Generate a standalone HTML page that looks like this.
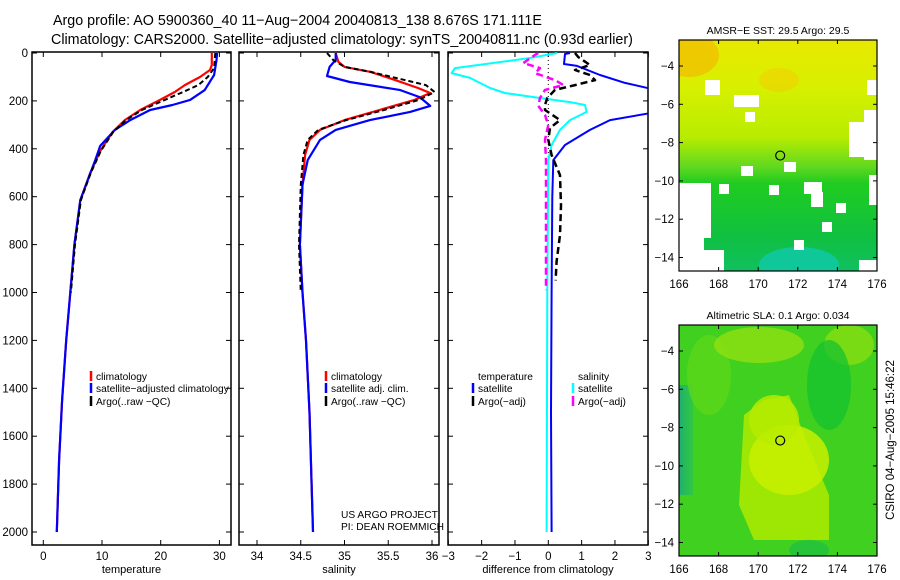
<!DOCTYPE html>
<html><head><meta charset="utf-8"><style>
body{margin:0;background:#fff;}
svg{display:block;font-family:"Liberation Sans",sans-serif;}
</style></head><body>
<svg id="fig" width="900" height="580" viewBox="0 0 900 580" xmlns="http://www.w3.org/2000/svg">
<rect width="900" height="580" fill="#fff"/>
<text x="53" y="25" font-size="14.3">Argo profile: AO 5900360_40 11−Aug−2004 20040813_138 8.676S 171.111E</text>
<text x="51" y="44" font-size="14.3">Climatology: CARS2000. Satellite−adjusted climatology: synTS_20040811.nc (0.93d earlier)</text>
<g id="maps"></g>
<g id="plots"></g>
<text transform="translate(894,440) rotate(-90)" text-anchor="middle" font-size="11.5">CSIRO 04−Aug−2005 15:46:22</text>
</svg>
<script>
// ---------- data ----------
const depthTicks = [0,200,400,600,800,1000,1200,1400,1600,1800,2000];
const tempTicks = [0,10,20,30];
const salTicks = [34,34.5,35,35.5,36];
const diffTicks = [-3,-2,-1,0,1,2,3];

const tempClimDepth = [0,50,71,100,134,163,196,238,280,330,409,500,614,800,1000,1200,1450,1700,2000];
const tempClimVal   = [28.7,28.7,28.4,26.7,24.1,22.4,19.9,16.5,13.9,11.8,9.7,8.0,6.3,5.3,4.6,3.9,3.2,2.7,2.3];
const tempSatDepth  = [0,30,92,155,196,217,238,280,321,388,450,614,800,1000,1200,1450,1700,2000];
const tempSatVal    = [29.6,29.5,29.1,27.5,25.0,22.0,18.2,14.8,12.2,9.7,8.8,6.3,5.3,4.6,3.9,3.2,2.7,2.3];
const tempArgoDepth = [0,63,100,134,163,196,238,280,330,409,500,614,800,1000];
const tempArgoVal   = [29.3,29.1,28.0,26.4,23.8,20.7,16.8,14.1,11.9,9.8,8.1,6.4,5.4,4.7];

const salClimDepth = [0,37,58,79,113,146,167,196,238,280,321,363,426,550,800,1000,1200,1500,2000];
const salClimVal   = [34.9,34.93,35.0,35.3,35.58,35.84,35.98,35.8,35.4,35.0,34.72,34.6,34.55,34.52,34.49,34.52,34.56,34.6,34.64];
const salSatDepth  = [0,29,58,96,121,154,184,221,246,280,321,363,447,550,800,1000,1200,1500,2000];
const salSatVal    = [34.9,34.9,34.83,34.8,35.06,35.63,35.86,35.98,35.75,35.29,34.9,34.72,34.58,34.52,34.49,34.52,34.56,34.6,34.64];
const salArgoDepth = [0,29,58,79,134,163,196,238,280,321,363,426,550,800,1000];
const salArgoVal   = [34.8,34.87,35.0,35.3,35.93,36.03,35.85,35.45,35.02,34.7,34.58,34.53,34.5,34.48,34.5];

const dTempSatDepth = [0,4,46,54,92,125,150,250,280,321,384,447,600,1000,1500,2000];
const dTempSatVal   = [0.65,0.5,0.47,0.86,1.55,2.3,3.1,3.1,1.85,1.25,0.5,0.15,0.12,0.1,0.08,0.1];
const dSalSatDepth  = [0,21,63,84,104,146,167,188,205,217,246,280,321,384,447,1000,2000];
const dSalSatVal    = [0.27,-0.55,-2.8,-2.9,-2.35,-1.75,-1.3,-0.25,0.65,1.1,1.15,0.65,0.35,0.1,0.0,-0.03,-0.05];
const dTempArgoDepth= [0,17,50,71,92,113,134,154,188,217,238,280,313,363,426,510,636,760,870,950];
const dTempArgoVal  = [0.8,0.9,1.25,0.8,1.25,1.4,0.8,0.2,-0.03,-0.1,-0.1,0.35,0.05,0.0,0.1,0.35,0.38,0.35,0.25,0.22];
const dSalArgoDepth = [0,8,42,63,84,113,134,154,188,221,259,301,363,447,600,800,990];
const dSalArgoVal   = [-0.3,-0.4,-0.75,-0.25,-0.4,0.2,0.45,-0.1,-0.25,-0.3,-0.1,0,-0.1,-0.07,-0.07,-0.07,-0.07];

const argoLon = 171.111, argoLat = -8.676;
const mapLonTicks = [166,168,170,172,174,176];
const mapLatTicks = [-4,-6,-8,-10,-12,-14];

// ---------- helpers ----------
const NS = "http://www.w3.org/2000/svg";
const plots = document.getElementById('plots');
const mapsG = document.getElementById('maps');
function mk(tag, attrs, parent){
  const e = document.createElementNS(NS, tag);
  for (const k in attrs) e.setAttribute(k, attrs[k]);
  (parent||plots).appendChild(e);
  return e;
}
const Y = d => 53.0 + d * 0.2395;

const panels = [
  {left:32, right:231, x:v => 43.3 + v*5.87, ticks:tempTicks, label:'temperature', name:'temperature', lbl:v=>String(v)},
  {left:239, right:439, x:v => 257 + (v-34)*87.5, ticks:salTicks, label:'salinity', name:'salinity', lbl:v=>String(v)},
  {left:448, right:648, x:v => 548.3 + v*33.33, ticks:diffTicks, label:'difference from climatology', name:'difference', lbl:v=>v<0?'−'+Math.abs(v):String(v)}
];
const TOP = 52, BOT = 545;

panels.forEach((p, i) => {
  const g = mk('g', {});
  
  
  const fr = mk('rect', {x:p.left, y:TOP, width:p.right-p.left, height:BOT-TOP, fill:'none', stroke:'#000', 'stroke-width':1.5}, g);
  
  
  p.ticks.forEach(t => {
    const x = p.x(t);
    mk('line', {x1:x, y1:BOT, x2:x, y2:BOT-5, stroke:'#000'}, g);
    mk('line', {x1:x, y1:TOP, x2:x, y2:TOP+5, stroke:'#000'}, g);
    const tl = mk('text', {x:x, y:BOT+15, 'font-size':11.5, 'text-anchor':'middle'}, g);
    tl.textContent = p.lbl(t);
    
    
  });
  depthTicks.forEach(d => {
    const y = Y(d);
    mk('line', {x1:p.left, y1:y, x2:p.left+5, y2:y, stroke:'#000'}, g);
    mk('line', {x1:p.right, y1:y, x2:p.right-5, y2:y, stroke:'#000'}, g);
    if (i === 0) {
      const tl = mk('text', {x:28, y:y+4, 'font-size':11.5, 'text-anchor':'end'}, g);
      tl.textContent = d;
      
      
    }
  });
  const xl = mk('text', {x:(p.left+p.right)/2, y:573, 'font-size':11, 'text-anchor':'middle'}, g);
  xl.textContent = p.label;
  
  
  p.g = g;
});

function line(p, depths, vals, color, w, dash, name){
  const clipId = 'clip' + p.name;
  if (!document.getElementById(clipId)) {
    const cp = mk('clipPath', {id:clipId}, p.g);
    mk('rect', {x:p.left, y:TOP, width:p.right-p.left, height:BOT-TOP}, cp);
  }
  const pts = depths.map((d,k) => p.x(vals[k]).toFixed(1) + ',' + Y(d).toFixed(1)).join(' ');
  const pl = mk('polyline', {points:pts, fill:'none', stroke:color, 'stroke-width':w, 'clip-path':'url(#'+clipId+')', 'stroke-linejoin':'round'}, p.g);
  if (dash) pl.setAttribute('stroke-dasharray', dash);
  
  
}
const [pT, pS, pD] = panels;
const zl = mk('line', {x1:pD.x(0), y1:TOP, x2:pD.x(0), y2:Y(450), stroke:'#000', 'stroke-dasharray':'1,3'}, pD.g);



line(pT, tempClimDepth, tempClimVal, '#f00', 2.2, null, 'temperature-climatology-line');
line(pT, tempSatDepth, tempSatVal, '#00f', 2.2, null, 'temperature-satellite-line');
line(pT, tempArgoDepth, tempArgoVal, '#000', 2, '5,3', 'temperature-argo-line');
line(pS, salClimDepth, salClimVal, '#f00', 2.2, null, 'salinity-climatology-line');
line(pS, salSatDepth, salSatVal, '#00f', 2.2, null, 'salinity-satellite-line');
line(pS, salArgoDepth, salArgoVal, '#000', 2, '5,3', 'salinity-argo-line');
line(pD, dTempSatDepth, dTempSatVal, '#00f', 2, null, 'diff-temperature-satellite-line');
line(pD, dSalSatDepth, dSalSatVal, '#0ff', 2, null, 'diff-salinity-satellite-line');
line(pD, dTempArgoDepth, dTempArgoVal, '#000', 2.5, '7,4', 'diff-temperature-argo-line');
line(pD, dSalArgoDepth, dSalArgoVal, '#f0f', 2.5, '7,4', 'diff-salinity-argo-line');

function legend(g, x, y, color, text, name){
  if (color) mk('line', {x1:x, y1:y-9, x2:x, y2:y+1, stroke:color, 'stroke-width':2.5}, g);
  const t = mk('text', {x:x+5, y:y, 'font-size':10.2}, g);
  t.textContent = text;
  
  
}
legend(pT.g, 91, 380, '#f00', 'climatology', 'legend-climatology');
legend(pT.g, 91, 392, '#00f', 'satellite−adjusted climatology', 'legend-satellite-adjusted');
legend(pT.g, 91, 405, '#000', 'Argo(..raw −QC)', 'legend-argo');
legend(pS.g, 326, 380, '#f00', 'climatology', 'legend-climatology');
legend(pS.g, 326, 392, '#00f', 'satellite adj. clim.', 'legend-satellite-adjusted');
legend(pS.g, 326, 405, '#000', 'Argo(..raw −QC)', 'legend-argo');
legend(pD.g, 473, 380, null, 'temperature', 'legend-temperature-heading');
legend(pD.g, 473, 392, '#00f', 'satellite', 'legend-temperature-satellite');
legend(pD.g, 473, 405, '#000', 'Argo(−adj)', 'legend-temperature-argo');
legend(pD.g, 573, 380, null, 'salinity', 'legend-salinity-heading');
legend(pD.g, 573, 392, '#0ff', 'satellite', 'legend-salinity-satellite');
legend(pD.g, 573, 405, '#f0f', 'Argo(−adj)', 'legend-salinity-argo');
const c1 = mk('text', {x:341, y:518, 'font-size':10.2}, pS.g); c1.textContent = 'US ARGO PROJECT';
 
const c2 = mk('text', {x:341, y:530, 'font-size':10.2}, pS.g); c2.textContent = 'PI: DEAN ROEMMICH';
 

// ---------- maps ----------
function map(top, title, name, drawField, filled){
  const L = 679, R = 877, H = 231;
  const g = mk('g', {}, mapsG);
  
  
  const lx = v => L + (v-166)*19.8;
  const ly = v => top + 26 + (-4 - v)*19.15;
  const cp = mk('clipPath', {id:'clip'+name}, g);
  mk('rect', {x:L, y:top, width:R-L, height:H}, cp);
  const fg = mk('g', {'clip-path':'url(#clip'+name+')'}, g);
  drawField(fg, L, top, R-L, H);
  mk('rect', {x:L, y:top, width:R-L, height:H, fill:'none', stroke:'#000', 'stroke-width':1.2}, g);
  const tt = mk('text', {x:(L+R)/2, y:top-6, 'font-size':10.5, 'text-anchor':'middle'}, g);
  tt.textContent = title;
  
  
  mapLonTicks.forEach(v => {
    const x = lx(v);
    mk('line', {x1:x, y1:top+H, x2:x, y2:top+H-4, stroke:'#000'}, g);
    mk('line', {x1:x, y1:top, x2:x, y2:top+4, stroke:'#000'}, g);
    const t = mk('text', {x:x, y:top+H+17, 'font-size':11.5, 'text-anchor':'middle'}, g);
    t.textContent = v;
    
    
  });
  mapLatTicks.forEach(v => {
    const y = ly(v);
    mk('line', {x1:L, y1:y, x2:L+4, y2:y, stroke:'#000'}, g);
    mk('line', {x1:R, y1:y, x2:R-4, y2:y, stroke:'#000'}, g);
    const t = mk('text', {x:L-5, y:y+4, 'font-size':11.5, 'text-anchor':'end'}, g);
    t.textContent = '−' + Math.abs(v);
    
    
  });
  const m = mk('circle', {cx:lx(argoLon), cy:ly(argoLat), r:4.5, fill:filled||'none', stroke:'#000', 'stroke-width':1.2}, g);
  
  
}
function grad(id, stops, g, vertical){
  const lg = mk('linearGradient', {id:id, x1:0, y1:0, x2:vertical?0:1, y2:vertical?1:0}, g);
  stops.forEach(s => mk('stop', {offset:s[0], 'stop-color':s[1]}, lg));
}
map(40, 'AMSR−E SST: 29.5 Argo: 29.5', 'sst-map', (g, x, y, w, h) => {
  grad('sstg', [[0,'#e8e800'],[0.2,'#d8f000'],[0.42,'#b8ec00'],[0.55,'#60d820'],[0.62,'#20cc20'],[0.85,'#10c040'],[1,'#10c060']], g, true);
  mk('rect', {x:x, y:y, width:w, height:h, fill:'url(#sstg)'}, g);
  mk('ellipse', {cx:x+10, cy:y+15, rx:30, ry:22, fill:'#f0c000', opacity:0.8}, g);
  mk('ellipse', {cx:x+100, cy:y+40, rx:20, ry:12, fill:'#f0d000', opacity:0.6}, g);
  mk('ellipse', {cx:x+120, cy:y+225, rx:40, ry:18, fill:'#10c8a0', opacity:0.9}, g);
  [[0,143,32,40],[0,183,25,50],[0,210,45,25],[22,183,10,15],[26,40,15,15],[55,55,25,12],[66,72,10,10],[105,122,12,10],[62,126,12,10],[40,144,10,10],[90,145,10,10],[125,142,18,12],[132,152,12,15],[157,163,10,10],[143,182,10,10],[115,200,10,10],[185,70,15,50],[170,82,20,35],[190,135,10,30],[188,40,10,15],[180,220,20,12]].forEach(r => {
    mk('rect', {x:x+r[0], y:y+r[1], width:r[2], height:r[3], fill:'#fff'}, g);
  });
});
map(325, 'Altimetric SLA: 0.1 Argo: 0.034', 'sla-map', (g, x, y, w, h) => {
  mk('rect', {x:x, y:y, width:w, height:h, fill:'#40d020'}, g);
  grad('slal', [[0,'#20b070'],[1,'#30c840']], g, false);
  mk('rect', {x:x, y:y+60, width:14, height:110, fill:'url(#slal)'}, g);
  mk('ellipse', {cx:x+30, cy:y+50, rx:22, ry:40, fill:'#60d818', opacity:0.7}, g);
  mk('polygon', {points:`${x+60},${y+180} ${x+65},${y+90} ${x+85},${y+75} ${x+110},${y+70} ${x+125},${y+110} ${x+150},${y+170} ${x+150},${y+215} ${x+75},${y+215}`, fill:'#a8e800', opacity:0.9}, g);
  mk('ellipse', {cx:x+110, cy:y+135, rx:40, ry:35, fill:'#c8f000', opacity:0.85}, g);
  mk('ellipse', {cx:x+95, cy:y+95, rx:25, ry:25, fill:'#b8ec00', opacity:0.8}, g);
  mk('ellipse', {cx:x+80, cy:y+20, rx:45, ry:18, fill:'#90e010', opacity:0.8}, g);
  mk('ellipse', {cx:x+170, cy:y+20, rx:25, ry:20, fill:'#90e010', opacity:0.7}, g);
  mk('ellipse', {cx:x+150, cy:y+60, rx:22, ry:45, fill:'#10c030', opacity:0.7}, g);
  mk('ellipse', {cx:x+130, cy:y+225, rx:20, ry:10, fill:'#20c040', opacity:0.8}, g);
});
</script>
</body></html>
